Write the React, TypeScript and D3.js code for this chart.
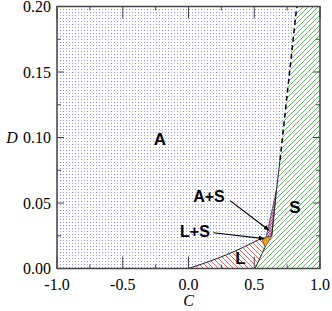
import React from 'react';
import * as d3 from 'd3';

const W = 332, H = 311;
const margin = { left: 57, right: 12, top: 6.5, bottom: 42.5 };

const cTicks = [-1, -0.5, 0, 0.5, 1];
const cMinor = [-0.75, -0.25, 0.25, 0.75];
const dTicks = [0, 0.05, 0.1, 0.15, 0.2];
const dMinor = [0.025, 0.075, 0.125, 0.175];

// phase boundaries as [C, D]
const liquidTop = [[0, 0], [0.29, 0.0105], [0.557, 0.0231]];
const liquidSolid = [[0.506, 0], [0.582, 0.0162]];
const lsRegion = [[0.557, 0.0231], [0.633, 0.0248], [0.582, 0.0162]];
const asRegion = [[0.589, 0.0237], [0.669, 0.0599], [0.633, 0.0248]];
const asSolid = [[0.633, 0.0248], [0.669, 0.0599], [0.696, 0.0828]];
const asDashed = [[0.696, 0.0828], [0.823, 0.2]];

const regionLabels = [
  { text: 'A', c: -0.217, d: 0.0943 },
  { text: 'S', c: 0.81, d: 0.042 },
  { text: 'L', c: 0.395, d: 0.0035 },
];
const arrowLabels = [
  { text: 'A+S', c: 0.156, d: 0.0511, from: [0.316, 0.0518], to: [0.612, 0.0292] },
  { text: 'L+S', c: 0.049, d: 0.0244, from: [0.189, 0.0273], to: [0.576, 0.0228] },
];

export default function App() {
  const x = d3.scaleLinear().domain([-1, 1]).range([margin.left, W - margin.right]);
  const y = d3.scaleLinear().domain([0, 0.2]).range([H - margin.bottom, margin.top]);
  const line = d3.line<number[]>().x(p => x(p[0])).y(p => y(p[1]));
  const curve = d3.line<number[]>().x(p => x(p[0])).y(p => y(p[1])).curve(d3.curveMonotoneX);

  const x0 = x(-1), x1 = x(1), y0 = y(0), y1 = y(0.2);

  const liquidPoly = curve(liquidTop)! +
    'L' + [lsRegion[2], liquidSolid[0]].map(p => `${x(p[0])},${y(p[1])}`).join('L') + 'Z';
  const solidPts = [liquidSolid[0], liquidSolid[1], ...asSolid, asDashed[1], [1, 0.2], [1, 0]];
  const solidPoly = line(solidPts) + 'Z';

  const serif = '"Liberation Serif", "Times New Roman", serif';
  const sans = '"Liberation Sans", Arial, sans-serif';
  const axisColor = '#444';

  return (
    <svg width={W} height={H} style={{ position: 'absolute', left: 0, top: 0, background: '#fff' }}>
      <defs>
        <pattern id="dots" width={6} height={6} patternUnits="userSpaceOnUse">
          <rect width={6} height={6} fill="#fff" />
          <rect x={0} y={0} width={1} height={1} fill="#8484ff" />
          <rect x={3} y={3} width={1} height={1} fill="#8484ff" />
          <rect x={3} y={0} width={1} height={1} fill="#b0b0c8" />
          <rect x={0} y={3} width={1} height={1} fill="#b0b0c8" />
        </pattern>
        <pattern id="green" width={5} height={5} patternUnits="userSpaceOnUse">
          <rect width={5} height={5} fill="#fff" />
          <path d="M-1,1 l2,-2 M0,5 l5,-5 M4,6 l2,-2" stroke="#3aa83a" strokeWidth={0.8} />
        </pattern>
        <pattern id="red" width={5} height={5} patternUnits="userSpaceOnUse">
          <rect width={5} height={5} fill="#fff" />
          <path d="M-1,4 l2,2 M0,0 l5,5 M4,-1 l2,2" stroke="#e83a3a" strokeWidth={0.8} />
        </pattern>
        <pattern id="pink" width={3} height={3} patternUnits="userSpaceOnUse">
          <rect width={3} height={3} fill="#e8bce4" />
          <path d="M0,0 l3,3 M3,0 l-3,3" stroke="#7a2a6a" strokeWidth={0.6} />
        </pattern>
        <marker id="arrow" viewBox="0 0 10 10" refX={9} refY={5} markerWidth={5} markerHeight={5} orient="auto">
          <path d="M0,1 L10,5 L0,9 Z" fill="#000" />
        </marker>
      </defs>

      <rect x={x0} y={y1} width={x1 - x0} height={y0 - y1} fill="url(#dots)" />
      <path d={solidPoly} fill="url(#green)" />
      <path d={liquidPoly} fill="url(#red)" />
      <path d={line(asRegion) + 'Z'} fill="url(#pink)" stroke="#333" strokeWidth={0.7} />
      <path d={line(lsRegion) + 'Z'} fill="#f2a21c" stroke="#333" strokeWidth={0.7} />

      <path d={curve(liquidTop)!} fill="none" stroke="#222" strokeWidth={1} />
      <path d={line(liquidSolid)!} fill="none" stroke="#222" strokeWidth={1} />
      <path d={line(asSolid)!} fill="none" stroke="#222" strokeWidth={1} />
      <path d={line(asDashed)!} fill="none" stroke="#000" strokeWidth={1.5} strokeDasharray="5,3.5" />

      {arrowLabels.map(a => (
        <g key={a.text}>
          <line x1={x(a.from[0])} y1={y(a.from[1])} x2={x(a.to[0])} y2={y(a.to[1])}
            stroke="#000" strokeWidth={1.2} markerEnd="url(#arrow)" />
          <text x={x(a.c)} y={y(a.d)} textAnchor="middle" fontFamily={sans} fontWeight="bold" fontSize={16}>{a.text}</text>
        </g>
      ))}
      {regionLabels.map(l => (
        <text key={l.text} x={x(l.c)} y={y(l.d)} textAnchor="middle" fontFamily={sans} fontWeight="bold" fontSize={17}>{l.text}</text>
      ))}

      {cTicks.map(t => (
        <g key={'cx' + t}>
          <line x1={x(t)} x2={x(t)} y1={y0} y2={y0 - 12} stroke={axisColor} />
          <line x1={x(t)} x2={x(t)} y1={y1} y2={y1 + 12} stroke={axisColor} />
          <text x={x(t)} y={y0 + 21.5} textAnchor="middle" fontFamily={serif} fontSize={16}>{t.toFixed(1)}</text>
        </g>
      ))}
      {cMinor.map(t => (
        <g key={'cm' + t}>
          <line x1={x(t)} x2={x(t)} y1={y0} y2={y0 - 4} stroke={axisColor} />
          <line x1={x(t)} x2={x(t)} y1={y1} y2={y1 + 4} stroke={axisColor} />
        </g>
      ))}
      {dTicks.map(t => (
        <g key={'dy' + t}>
          <line x1={x0} x2={x0 + 7} y1={y(t)} y2={y(t)} stroke={axisColor} />
          <line x1={x1} x2={x1 - 7} y1={y(t)} y2={y(t)} stroke={axisColor} />
          <text x={x0 - 6} y={y(t) + 5.5} textAnchor="end" fontFamily={serif} fontSize={16}>{t.toFixed(2)}</text>
        </g>
      ))}
      {dMinor.map(t => (
        <g key={'dm' + t}>
          <line x1={x0} x2={x0 + 4} y1={y(t)} y2={y(t)} stroke={axisColor} />
          <line x1={x1} x2={x1 - 4} y1={y(t)} y2={y(t)} stroke={axisColor} />
        </g>
      ))}
      <rect x={x0} y={y1} width={x1 - x0} height={y0 - y1} fill="none" stroke={axisColor} strokeWidth={1.5} />

      <text x={(x0 + x1) / 2} y={306} textAnchor="middle" fontFamily={serif} fontStyle="italic" fontSize={16}>C</text>
      <text x={12} y={143} textAnchor="middle" fontFamily={serif} fontStyle="italic" fontSize={16}>D</text>
    </svg>
  );
}
